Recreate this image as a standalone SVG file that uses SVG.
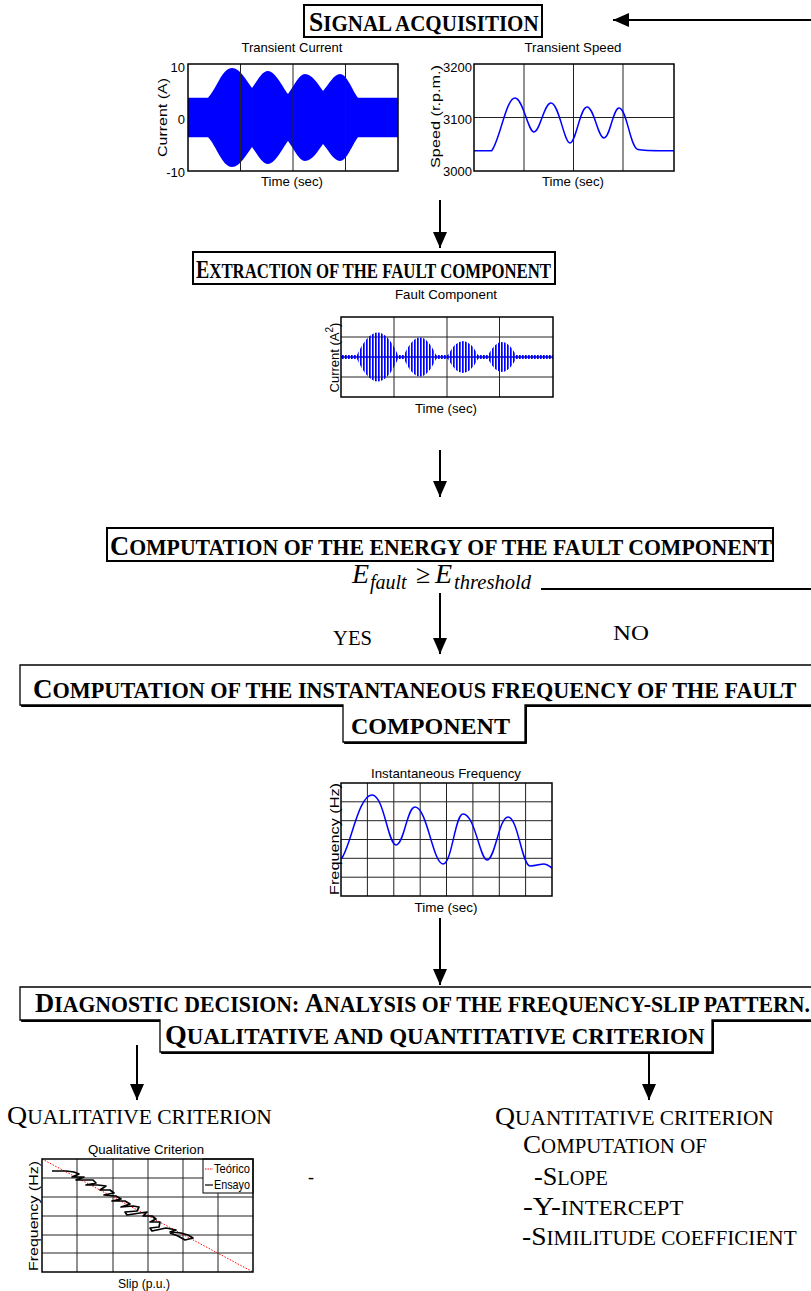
<svg xmlns="http://www.w3.org/2000/svg" width="811" height="1291" viewBox="0 0 811 1291">
<style>
.hb{font-family:"Liberation Serif","Times New Roman",serif;font-weight:bold;fill:#000}
.tr{font-family:"Liberation Serif","Times New Roman",serif;fill:#000}
.ti{font-family:"Liberation Serif","Times New Roman",serif;font-style:italic;fill:#000}
.pl{font-family:"Liberation Sans",Arial,sans-serif;font-size:13px;fill:#000}
.box{fill:#fff;stroke:#000;stroke-width:2}
.frame{fill:none;stroke:#000;stroke-width:1.5}
.grid{fill:none;stroke:#222;stroke-width:1}
.sig{fill:none;stroke:#0000ff;stroke-width:1.5}
.conn{fill:none;stroke:#000;stroke-width:2}
.shadow{fill:#000;stroke:#000;stroke-width:1}
.sbox{fill:#fff;stroke:#000;stroke-width:1.3}
</style>
<defs>
<marker id="ah" markerUnits="userSpaceOnUse" markerWidth="16" markerHeight="14" refX="16" refY="7" orient="auto">
<path d="M0,0 L16,7 L0,14 Z" fill="#000"/>
</marker>
<pattern id="stripes" patternUnits="userSpaceOnUse" width="3" height="10">
<rect x="0" y="0" width="1.7" height="10" fill="#0000ff"/>
</pattern>
</defs>

<g id="connectors">
<line class="conn" x1="811" y1="20" x2="613" y2="20" marker-end="url(#ah)"/>
<line class="conn" x1="440" y1="200" x2="440" y2="248" marker-end="url(#ah)"/>
<line class="conn" x1="440" y1="450" x2="440" y2="497" marker-end="url(#ah)"/>
<line class="conn" x1="440" y1="593" x2="440" y2="654" marker-end="url(#ah)"/>
<line class="conn" x1="541" y1="589" x2="811" y2="589"/>
<line class="conn" x1="440" y1="918" x2="440" y2="985" marker-end="url(#ah)"/>
<line class="conn" x1="137" y1="1045" x2="137" y2="1100" marker-end="url(#ah)"/>
<line class="conn" x1="649" y1="1045" x2="649" y2="1100" marker-end="url(#ah)"/>
</g>

<g id="signal-acquisition">
<rect class="box" x="304" y="5" width="238" height="32"/>
<text class="hb" transform="translate(309,31) scale(0.914,1)"><tspan font-size="28">S</tspan><tspan font-size="23">IGNAL ACQUISITION</tspan></text>
</g>

<g id="plot-transient-current">
<text class="pl" x="292" y="52" text-anchor="middle" textLength="101" lengthAdjust="spacingAndGlyphs">Transient Current</text>
<path fill="#0000ff" d="M188,97.7 H208 C216,90 222,68 232,68 C240,68 246,80 252,88 C258,80 262,71 268,71 C275,71 282,86 288,94 C294,86 299,74 305,74 C312,74 318,84 323,91 C329,84 334,74 340,74 C347,74 352,90 358,97.7 H398 V137.3 H358 C352,145 347,161 340,161 C334,161 329,151 323,144 C318,151 312,161 305,161 C299,161 294,149 288,141 C282,149 275,164 268,164 C262,164 258,155 252,147 C246,155 240,167 232,167 C222,167 216,145 208,137.3 H188 Z"/>
<path class="grid" d="M240.5,64 V171 M293,64 V171 M345.5,64 V171"/>
<rect class="frame" x="188" y="64" width="210" height="107"/>
<text class="pl" x="185" y="72" text-anchor="end" font-size="14">10</text>
<text class="pl" x="185" y="124" text-anchor="end" font-size="14">0</text>
<text class="pl" x="185" y="177" text-anchor="end" font-size="14">-10</text>
<text class="pl" transform="translate(167,117.5) rotate(-90)" text-anchor="middle" font-size="14" textLength="79" lengthAdjust="spacingAndGlyphs">Current (A)</text>
<text class="pl" x="292" y="186" text-anchor="middle" textLength="62" lengthAdjust="spacingAndGlyphs">Time (sec)</text>
</g>

<g id="plot-transient-speed">
<text class="pl" x="573" y="52" text-anchor="middle" textLength="97" lengthAdjust="spacingAndGlyphs">Transient Speed</text>
<path class="grid" d="M524,64 V171 M573.5,64 V171 M623,64 V171 M474,117.5 H674"/>
<path class="sig" d="M474,150.7 H491.7 C500,140 506,98 515,98 C523,98 528,132 534,132 C540,132 544,103 551,103 C559,103 564,143 570,143 C576,143 580,107 587,107 C594,107 598,138 604,138 C610,138 613,108 619,108 C627,108 630,148 638,149.5 C645,151 660,150.7 674,150.7"/>
<rect class="frame" x="474" y="64" width="200" height="107"/>
<text class="pl" x="472" y="72" text-anchor="end" font-size="14">3200</text>
<text class="pl" x="472" y="124" text-anchor="end" font-size="14">3100</text>
<text class="pl" x="472" y="176" text-anchor="end" font-size="14">3000</text>
<text class="pl" transform="translate(440,116.5) rotate(-90)" text-anchor="middle" font-size="14" textLength="103" lengthAdjust="spacingAndGlyphs">Speed (r.p.m.)</text>
<text class="pl" x="573" y="186" text-anchor="middle" textLength="62" lengthAdjust="spacingAndGlyphs">Time (sec)</text>
</g>

<g id="extraction">
<rect class="box" x="193" y="252" width="362" height="32"/>
<text class="hb" transform="translate(196,278) scale(0.799,1)"><tspan font-size="25">E</tspan><tspan font-size="21">XTRACTION OF THE FAULT COMPONENT</tspan></text>
</g>

<g id="plot-fault-component">
<text class="pl" x="446" y="299" text-anchor="middle" textLength="102" lengthAdjust="spacingAndGlyphs">Fault Component</text>
<path class="grid" d="M394,317 V397 M447,317 V397 M499.5,317 V397 M341,337 H553 M341,357 H553 M341,377 H553"/>
<path fill="url(#stripes)" d="M341,355 H357 Q378,310 398,355 H404 Q420,320 436,355 H448 Q463,327 478,355 H488 Q502,329 516,355 H553 V359 H516 Q502,385 488,359 H478 Q463,387 448,359 H436 Q420,394 404,359 H398 Q378,404 357,359 H341 Z"/>
<line x1="341" y1="357" x2="553" y2="357" stroke="#0000ff" stroke-width="1"/>
<rect class="frame" x="341" y="317" width="212" height="80"/>
<text class="pl" transform="translate(339,357.5) rotate(-90)" text-anchor="middle" font-size="15">Current (A<tspan dy="-6" font-size="10">2</tspan><tspan dy="6">)</tspan></text>
<text class="pl" x="446" y="413" text-anchor="middle" textLength="62" lengthAdjust="spacingAndGlyphs">Time (sec)</text>
</g>

<g id="energy">
<rect class="box" x="107" y="528" width="666" height="33"/>
<text class="hb" transform="translate(110,555) scale(0.947,1)"><tspan font-size="28">C</tspan><tspan font-size="23">OMPUTATION OF THE ENERGY OF THE FAULT COMPONENT</tspan></text>
</g>

<g id="threshold-condition">
<text class="ti" x="352" y="583" font-size="28">E</text>
<text class="ti" x="370" y="589" font-size="20">fault</text>
<text class="tr" x="416" y="583" font-size="26">≥</text>
<text class="ti" x="435" y="583" font-size="28">E</text>
<text class="ti" x="454" y="589" font-size="20" textLength="77" lengthAdjust="spacingAndGlyphs">threshold</text>
<text class="tr" x="333" y="645" font-size="21" textLength="39" lengthAdjust="spacingAndGlyphs">YES</text>
<text class="tr" x="613" y="640" font-size="21" textLength="36" lengthAdjust="spacingAndGlyphs">NO</text>
</g>

<g id="instantaneous-frequency">
<polygon class="shadow" points="21.5,666.5 816.5,666.5 816.5,706.5 526.5,706.5 526.5,743.5 344.5,743.5 344.5,706.5 21.5,706.5"/>
<polygon class="sbox" points="20,665 815,665 815,705 525,705 525,742 343,742 343,705 20,705"/>
<text class="hb" transform="translate(33,698) scale(0.966,1)"><tspan font-size="28">C</tspan><tspan font-size="23">OMPUTATION OF THE INSTANTANEOUS FREQUENCY OF THE FAULT</tspan></text>
<text class="hb" x="351" y="734" font-size="23" textLength="159" lengthAdjust="spacingAndGlyphs">COMPONENT</text>
</g>

<g id="plot-instantaneous-frequency">
<text class="pl" x="446" y="778" text-anchor="middle" textLength="150" lengthAdjust="spacingAndGlyphs">Instantaneous Frequency</text>
<path class="grid" d="M367.4,783 V896 M393.8,783 V896 M420.2,783 V896 M446.5,783 V896 M472.9,783 V896 M499.3,783 V896 M525.6,783 V896 M341,801.8 H552 M341,820.7 H552 M341,839.5 H552 M341,858.3 H552 M341,877.2 H552"/>
<path class="sig" d="M341,859 C350,850 358,795 372,795 C384,795 388,845 396,845 C404,845 407,807 415,807 C427,807 433,864 443,864 C452,864 455,814 463,814 C475,814 480,860 487,860 C495,860 499,817 508,817 C518,817 522,866 530,866 C536,866 540,864 544,864 C548,864 550,867 552,868"/>
<rect class="frame" x="341" y="783" width="211" height="113"/>
<text class="pl" transform="translate(339,839) rotate(-90)" text-anchor="middle" font-size="14" textLength="112" lengthAdjust="spacingAndGlyphs">Frequency (Hz)</text>
<text class="pl" x="446" y="912" text-anchor="middle" textLength="63" lengthAdjust="spacingAndGlyphs">Time (sec)</text>
</g>

<g id="diagnostic-decision">
<polygon class="shadow" points="21.5,988.5 816.5,988.5 816.5,1021.5 713.5,1021.5 713.5,1053.5 161.5,1053.5 161.5,1021.5 21.5,1021.5"/>
<polygon class="sbox" points="20,987 815,987 815,1020 712,1020 712,1052 160,1052 160,1020 20,1020"/>
<text class="hb" transform="translate(35,1012) scale(0.948,1)"><tspan font-size="28">D</tspan><tspan font-size="23">IAGNOSTIC DECISION: </tspan><tspan font-size="28">A</tspan><tspan font-size="23">NALYSIS OF THE FREQUENCY-SLIP PATTERN.</tspan></text>
<text class="hb" transform="translate(165,1044) scale(1.0,1)"><tspan font-size="28">Q</tspan><tspan font-size="23">UALITATIVE AND QUANTITATIVE CRITERION</tspan></text>
</g>

<g id="qualitative-criterion">
<text class="tr" transform="translate(7,1124) scale(1.074,1)"><tspan font-size="26">Q</tspan><tspan font-size="20">UALITATIVE CRITERION</tspan></text>
</g>

<g id="plot-qualitative">
<text class="pl" x="146" y="1154" text-anchor="middle" textLength="116" lengthAdjust="spacingAndGlyphs">Qualitative Criterion</text>
<path class="grid" d="M77,1159 V1272 M113,1159 V1272 M148,1159 V1272 M183,1159 V1272 M218,1159 V1272 M42,1178 H253 M42,1197 H253 M42,1216 H253 M42,1235 H253 M42,1253 H253"/>
<line x1="42" y1="1159" x2="253" y2="1272" stroke="#ff0000" stroke-width="1" stroke-dasharray="1.5,1.5"/>
<polyline fill="none" stroke="#000" stroke-width="1.7" stroke-linejoin="round" points="52,1171 66,1171 74,1172 79,1174 72,1177 84,1177 76,1180 87,1180 93,1180 96,1183 86,1185 98,1185 106,1186 100,1190 110,1190 114,1193 104,1195 116,1196 121,1199 112,1201 125,1201 130,1204 121,1207 133,1206 139,1207 137,1211 125,1212 127,1215 140,1213 147,1212 143,1216 152,1216 156,1219 150,1222 160,1222 159,1227 150,1228 152,1231 166,1228 176,1230 170,1232 181,1233 188,1235 193,1238 185,1240 178,1236 170,1233"/>
<rect x="203" y="1159" width="50" height="34" fill="#fff" stroke="#000" stroke-width="1"/>
<line x1="205" y1="1169" x2="213" y2="1169" stroke="#ff0000" stroke-width="1" stroke-dasharray="1.5,1"/>
<text class="pl" x="214" y="1173" font-size="11" textLength="36" lengthAdjust="spacingAndGlyphs">Teórico</text>
<line x1="205" y1="1185" x2="213" y2="1185" stroke="#000" stroke-width="1.2"/>
<text class="pl" x="214" y="1189" font-size="11" textLength="36" lengthAdjust="spacingAndGlyphs">Ensayo</text>
<rect class="frame" x="42" y="1159" width="211" height="113"/>
<text class="pl" transform="translate(38,1216) rotate(-90)" text-anchor="middle" font-size="14" textLength="110" lengthAdjust="spacingAndGlyphs">Frequency (Hz)</text>
<text class="pl" x="144" y="1288" text-anchor="middle" textLength="52" lengthAdjust="spacingAndGlyphs">Slip (p.u.)</text>
</g>

<g id="dash">
<text class="tr" x="308" y="1183" font-size="18">-</text>
</g>

<g id="quantitative-criterion">
<text class="tr" transform="translate(495,1125) scale(1.068,1)"><tspan font-size="26">Q</tspan><tspan font-size="20">UANTITATIVE CRITERION</tspan></text>
<text class="tr" transform="translate(523,1153) scale(1.043,1)"><tspan font-size="26">C</tspan><tspan font-size="20">OMPUTATION OF</tspan></text>
<text class="tr" transform="translate(534,1185) scale(1.01,1)"><tspan font-size="26">-S</tspan><tspan font-size="20">LOPE</tspan></text>
<text class="tr" transform="translate(523,1215) scale(1.138,1)"><tspan font-size="26">-Y-</tspan><tspan font-size="20">INTERCEPT</tspan></text>
<text class="tr" transform="translate(522,1245) scale(1.06,1)"><tspan font-size="26">-S</tspan><tspan font-size="20">IMILITUDE COEFFICIENT</tspan></text>
</g>
</svg>
